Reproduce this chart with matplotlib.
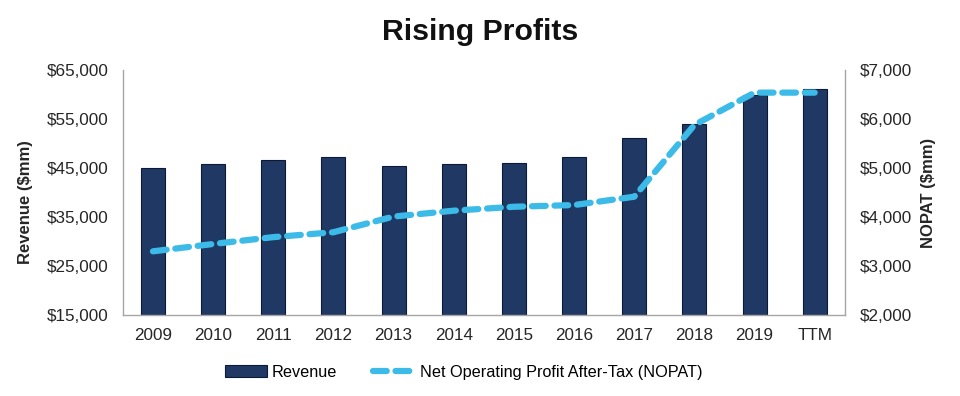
import matplotlib
matplotlib.use("Agg")
import matplotlib.pyplot as plt
from matplotlib.ticker import FuncFormatter
import numpy as np

plt.rcParams["font.family"] = ["Liberation Sans", "DejaVu Sans"]

# ── Data ──────────────────────────────────────────────────────────────
years   = ["2009", "2010", "2011", "2012", "2013", "2014",
           "2015", "2016", "2017", "2018", "2019", "TTM"]
revenue = [45100, 45800, 46600, 47200, 45400, 45800,
           46100, 47200, 51050, 53900, 59900, 61200]
nopat   = [3300, 3450, 3590, 3690, 4010, 4130,
           4210, 4245, 4415, 5880, 6540, 6540]

BAR_COLOR  = "#1f3864"
LINE_COLOR = "#3dbbe8"
SPINE_GRAY = "#a6a6a6"
TEXT_COLOR = "#262626"

# ── Plot ──────────────────────────────────────────────────────────────
fig = plt.figure(figsize=(9.6, 3.96), dpi=100)
ax = fig.add_axes([0.128, 0.2045, 0.752, 0.6185])
ax2 = ax.twinx()

x = np.arange(len(years))
ax.bar(x, revenue, width=0.4, color=BAR_COLOR, edgecolor="#0d1a33",
       linewidth=0.8, label="Revenue", zorder=2)
ax2.plot(x, nopat, color=LINE_COLOR, linewidth=4.5, dashes=(2.2, 1.4),
         solid_capstyle="round", dash_capstyle="round",
         label="Net Operating Profit After-Tax (NOPAT)", zorder=3)

ax.set_xlim(-0.5, len(years) - 0.5)
ax.set_ylim(15000, 65000)
ax.set_yticks(np.arange(15000, 65001, 10000))
ax2.set_ylim(2000, 7000)
ax2.set_yticks(np.arange(2000, 7001, 1000))

money = FuncFormatter(lambda v, _: f"${v:,.0f}")
ax.yaxis.set_major_formatter(money)
ax2.yaxis.set_major_formatter(money)

ax.set_xticks(x)
ax.set_xticklabels(years)

for a in (ax, ax2):
    a.tick_params(axis="both", length=0, labelsize=12.3, colors=TEXT_COLOR)
    a.spines["top"].set_visible(False)
    for s in ("left", "right", "bottom"):
        a.spines[s].set_color(SPINE_GRAY)
        a.spines[s].set_linewidth(1.0)
ax.spines["right"].set_visible(False)
ax2.spines["left"].set_visible(False)
ax2.spines["bottom"].set_visible(False)
ax.tick_params(axis="y", pad=10)
ax.tick_params(axis="x", pad=9)
ax2.tick_params(axis="y", pad=11)

ax.set_ylabel("Revenue ($mm)", fontsize=12, fontweight="bold",
              color=TEXT_COLOR)
ax.yaxis.set_label_coords(-0.124, 0.46)
ax2.set_ylabel("NOPAT ($mm)", fontsize=12, fontweight="bold",
               color=TEXT_COLOR)
ax2.yaxis.set_label_coords(1.105, 0.5)

fig.text(0.5, 0.919, "Rising Profits", fontsize=21.8, fontweight="bold",
         color="#111111", ha="center", va="center")

h1, l1 = ax.get_legend_handles_labels()
h2, l2 = ax2.get_legend_handles_labels()
fig.legend(h1 + h2, l1 + l2, loc="center", bbox_to_anchor=(0.483, 0.06),
           ncol=2, frameon=False, fontsize=11.7, handlelength=2.6,
           columnspacing=2.2, handletextpad=0.3)

plt.savefig("out.png", dpi=100)
plt.close(fig)
